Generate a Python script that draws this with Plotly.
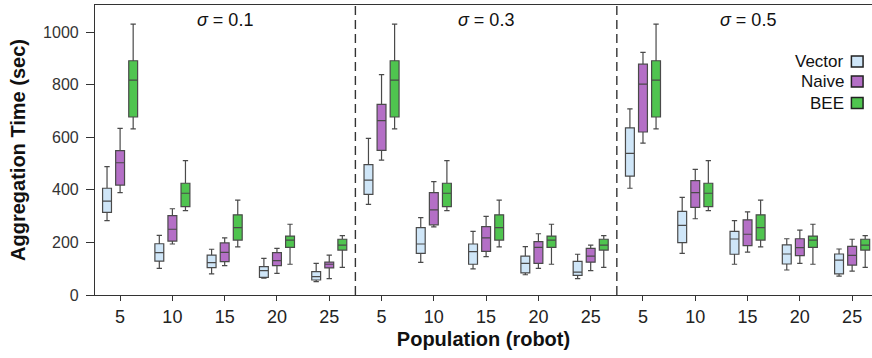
import plotly.graph_objects as go

# Population sizes, repeated for each noise level panel
populations = [5, 10, 15, 20, 25]
sigmas = ["0.1", "0.3", "0.5"]

# Box statistics per method: one entry per (sigma, population), sigma-major order
vector_low = [283, 101, 80, 64, 51, 345, 124, 99, 77, 62, 406, 158, 117, 95, 72]
vector_q1 = [314, 129, 104, 67, 57, 383, 158, 117, 84, 75, 452, 199, 155, 118, 80]
vector_med = [357, 161, 123, 93, 70, 437, 194, 165, 120, 87, 539, 265, 213, 156, 133]
vector_q3 = [406, 195, 152, 108, 89, 496, 256, 194, 148, 128, 636, 318, 242, 191, 156]
vector_high = [488, 227, 174, 139, 120, 596, 294, 242, 184, 155, 708, 371, 283, 214, 175]

naive_low = [389, 194, 112, 82, 62, 513, 259, 146, 101, 93, 578, 290, 163, 120, 91]
naive_q1 = [418, 205, 127, 112, 103, 550, 267, 166, 120, 125, 620, 333, 188, 150, 114]
naive_med = [503, 250, 162, 131, 117, 663, 324, 217, 181, 148, 802, 389, 231, 180, 151]
naive_q3 = [549, 302, 198, 161, 125, 725, 389, 260, 203, 177, 878, 435, 286, 214, 185]
naive_high = [634, 328, 217, 177, 152, 838, 431, 299, 233, 190, 923, 478, 316, 247, 212]

bee_low = [632, 321, 183, 117, 105] * 3
bee_q1 = [677, 336, 209, 181, 171] * 3
bee_med = [817, 387, 256, 209, 190] * 3
bee_q3 = [891, 425, 305, 224, 212] * 3
bee_high = [1030, 511, 361, 269, 226] * 3

methods = [
    ("Vector", "#cfe6f8", vector_low, vector_q1, vector_med, vector_q3, vector_high),
    ("Naive", "#b46fc6", naive_low, naive_q1, naive_med, naive_q3, naive_high),
    ("BEE", "#4fc44f", bee_low, bee_q1, bee_med, bee_q3, bee_high),
]

positions = list(range(len(sigmas) * len(populations)))
tick_text = [str(p) for p in populations] * len(sigmas)

fig = go.Figure()
for name, color, lo, q1, med, q3, hi in methods:
    fig.add_trace(go.Box(
        name=name,
        x=positions,
        lowerfence=lo,
        q1=q1,
        median=med,
        q3=q3,
        upperfence=hi,
        fillcolor=color,
        line=dict(color="#4a4a4a", width=1.2),
        whiskerwidth=0.6,
        boxpoints=False,
        showlegend=False,
        offsetgroup=name,
    ))

# Dashed separators between sigma panels
npop = len(populations)
for k in range(1, len(sigmas)):
    fig.add_shape(type="line", xref="x", yref="paper",
                  x0=k * npop - 0.5, x1=k * npop - 0.5, y0=0, y1=1,
                  line=dict(color="#333333", width=1.4, dash="9px,5px"))

# Panel titles
for k, s in enumerate(sigmas):
    fig.add_annotation(x=k * npop + (npop - 1) / 2, y=0.99, xref="x", yref="paper",
                       text=f"<i>σ</i> = {s}", showarrow=False, yanchor="top",
                       font=dict(size=18, color="#111111"))

# Legend: label on the left, swatch on the right
leg_y = [0.805, 0.736, 0.662]
for (name, color, *_), yy in zip(methods, leg_y):
    fig.add_annotation(x=0.9665, y=yy, xref="paper", yref="paper", text=name,
                       showarrow=False, xanchor="right", yanchor="middle",
                       font=dict(size=17, color="#111111"))
    fig.add_shape(type="rect", xref="paper", yref="paper",
                  x0=0.9735, x1=0.9885, y0=yy - 0.019, y1=yy + 0.019,
                  fillcolor=color, line=dict(color="#222222", width=1.5))

fig.update_layout(
    width=872, height=358,
    margin=dict(l=95, r=0, t=5, b=63),
    boxmode="group",
    boxgap=0.25,
    boxgroupgap=0.32,
    plot_bgcolor="white",
    paper_bgcolor="white",
    font=dict(family="Liberation Sans, Arial, sans-serif", color="#222222"),
)
fig.update_xaxes(
    range=[-0.48, 14.38],
    tickmode="array", tickvals=positions, ticktext=tick_text,
    tickfont=dict(size=18, color="#222222"),
    ticks="outside", ticklen=5, tickcolor="#333333",
    showline=True, linecolor="#333333", linewidth=1.2, mirror=True,
    showgrid=False, zeroline=False,
    title=dict(text="<b>Population (robot)</b>", font=dict(size=20, color="#111111"), standoff=6),
)
fig.update_yaxes(
    range=[0, 1103],
    tickvals=[0, 200, 400, 600, 800, 1000],
    tickfont=dict(size=16, color="#333333"),
    ticks="outside", ticklen=8, tickcolor="#333333",
    ticklabelstandoff=4,
    showline=True, linecolor="#333333", linewidth=1.2, mirror=True,
    showgrid=False, zeroline=False,
    automargin=False,
    title=dict(text="<b>Aggregation Time (sec)</b>", font=dict(size=20, color="#111111"), standoff=12),
)

fig.write_html("out.html")
